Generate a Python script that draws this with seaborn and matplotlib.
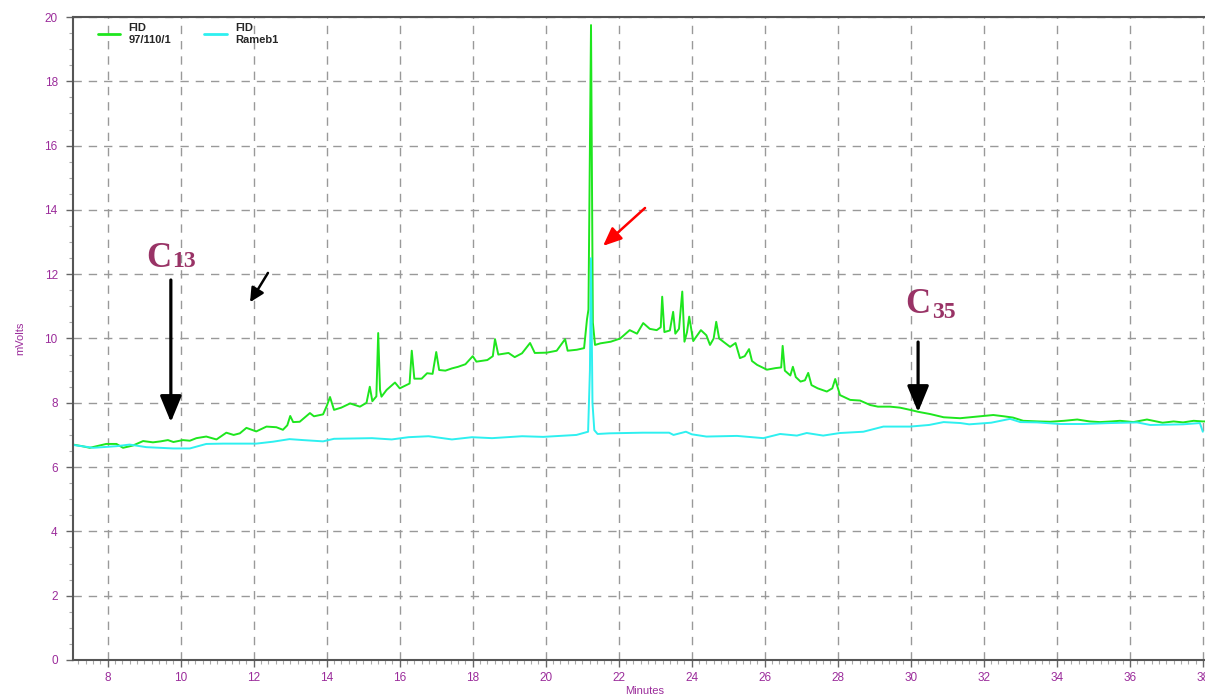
import matplotlib
matplotlib.use("Agg")
import matplotlib.pyplot as plt
from matplotlib.ticker import MultipleLocator
from matplotlib.lines import Line2D
import seaborn as sns

# green trace (sample 97/110/1), minutes / mVolts
green_t = [7.05, 7.3, 7.51, 7.78, 7.96, 8.24, 8.42, 8.69, 8.97, 9.24, 9.45, 9.65, 9.8,
           10.06, 10.25, 10.43, 10.7, 10.98, 11.25, 11.45, 11.62, 11.8, 12.07, 12.35,
           12.62, 12.8, 12.92, 13.0, 13.08, 13.26, 13.54, 13.65, 13.9, 14.0, 14.09,
           14.2, 14.4, 14.64, 14.91, 15.09, 15.18, 15.25, 15.36, 15.41, 15.46, 15.5,
           15.64, 15.87, 16.0, 16.27, 16.33, 16.4, 16.6, 16.75, 16.9, 17.0, 17.08,
           17.25, 17.43, 17.6, 17.8, 18.0, 18.1, 18.4, 18.55, 18.61, 18.7, 18.98,
           19.15, 19.35, 19.57, 19.7, 20.03, 20.3, 20.53, 20.6, 20.85, 21.05, 21.13,
           21.17, 21.24, 21.29, 21.35, 21.5, 21.78, 22.04, 22.3, 22.5, 22.67, 22.85,
           23.04, 23.15, 23.19, 23.25, 23.4, 23.49, 23.55, 23.65, 23.74, 23.8, 23.87,
           23.93, 24.04, 24.25, 24.4, 24.5, 24.6, 24.67, 24.75, 25.05, 25.2, 25.32,
           25.45, 25.57, 25.65, 25.79, 26.06, 26.3, 26.45, 26.49, 26.55, 26.7, 26.77,
           26.85, 26.98, 27.1, 27.19, 27.28, 27.45, 27.7, 27.85, 27.93, 28.06, 28.34,
           28.61, 28.89, 29.1, 29.43, 29.7, 29.98, 30.2, 30.53, 30.9, 31.35, 31.63,
           31.9, 32.26, 32.55, 32.8, 33.08, 33.5, 33.82, 34.2, 34.56, 34.9, 35.18,
           35.5, 35.73, 36.1, 36.47, 36.9, 37.2, 37.46, 37.75, 38.0, 38.4]
green_mv = [6.70, 6.65, 6.60, 6.67, 6.72, 6.72, 6.60, 6.67, 6.81, 6.77, 6.80, 6.84, 6.78,
            6.84, 6.82, 6.90, 6.95, 6.86, 7.07, 7.00, 7.05, 7.22, 7.11, 7.26,
            7.24, 7.16, 7.30, 7.59, 7.40, 7.41, 7.68, 7.58, 7.64, 7.90, 8.18,
            7.78, 7.85, 7.98, 7.88, 8.00, 8.50, 8.05, 8.20, 10.17, 8.40, 8.19,
            8.40, 8.63, 8.45, 8.60, 9.62, 8.75, 8.75, 8.92, 8.90, 9.58, 9.02,
            9.00, 9.07, 9.12, 9.20, 9.45, 9.28, 9.33, 9.45, 9.98, 9.50, 9.55,
            9.42, 9.54, 9.86, 9.55, 9.56, 9.62, 9.98, 9.62, 9.65, 9.70, 10.60,
            10.90, 19.75, 10.50, 9.80, 9.85, 9.90, 10.00, 10.26, 10.15, 10.48, 10.30,
            10.26, 10.35, 11.30, 10.20, 10.25, 10.83, 10.15, 10.30, 11.46, 9.90, 10.20,
            10.68, 9.92, 10.26, 10.10, 9.80, 10.00, 10.52, 10.00, 9.74, 9.86, 9.39,
            9.45, 9.67, 9.30, 9.18, 9.03, 9.08, 9.10, 9.77, 9.00, 8.85, 9.12,
            8.80, 8.66, 8.70, 8.93, 8.55, 8.45, 8.35, 8.45, 8.74, 8.24, 8.09,
            8.07, 7.93, 7.88, 7.88, 7.85, 7.78, 7.72, 7.65, 7.55, 7.52, 7.55,
            7.58, 7.62, 7.58, 7.54, 7.44, 7.42, 7.41, 7.44, 7.48, 7.42, 7.40,
            7.42, 7.44, 7.40, 7.48, 7.38, 7.42, 7.39, 7.44, 7.42, 7.42]

# cyan trace (Rameb1)
cyan_t = [7.05, 7.6, 8.24, 8.6, 9.06, 9.79, 10.25, 10.7, 11.16, 12.07, 12.53, 12.98,
          13.35, 13.9, 14.2, 15.24, 15.78, 16.24, 16.79, 17.43, 17.98, 18.53, 19.35,
          19.93, 20.84, 21.16, 21.21, 21.24, 21.28, 21.33, 21.42, 21.74, 22.65, 23.38,
          23.5, 23.84, 24.0, 24.4, 25.24, 25.96, 26.42, 26.88, 27.15, 27.6, 28.06,
          28.7, 29.25, 29.98, 30.5, 30.9, 31.36, 31.6, 32.2, 32.72, 33.0, 33.46,
          34.09, 34.72, 35.46, 36.2, 36.56, 37.46, 37.92, 38.0]
cyan_mv = [6.69, 6.60, 6.65, 6.70, 6.62, 6.58, 6.58, 6.72, 6.73, 6.73, 6.79, 6.87,
           6.84, 6.80, 6.88, 6.90, 6.86, 6.93, 6.96, 6.86, 6.93, 6.90, 6.96,
           6.94, 7.00, 7.10, 9.00, 12.50, 8.00, 7.15, 7.03, 7.05, 7.07, 7.07,
           7.00, 7.10, 7.02, 6.95, 6.97, 6.90, 7.03, 6.98, 7.06, 6.98, 7.06,
           7.10, 7.26, 7.26, 7.31, 7.40, 7.37, 7.33, 7.38, 7.50, 7.40, 7.39,
           7.34, 7.34, 7.37, 7.39, 7.31, 7.33, 7.37, 7.10]

legend_labels = ["FID\n97/110/1", "FID\nRameb1"]
x_ticks = list(range(8, 40, 2))
y_ticks = list(range(0, 22, 2))

purple = "#9b2c9b"
maroon = "#993366"
green = "#1ee61e"
cyan = "#2ef0f0"

sns.set_style("white")
plt.rcParams["font.family"] = ["Liberation Sans", "DejaVu Sans"]

fig = plt.figure(figsize=(12.05, 6.95), dpi=100)
ax = fig.add_axes([0.0606, 0.0504, 0.9494, 0.9251])

sns.lineplot(x=green_t, y=green_mv, ax=ax, color=green, lw=1.4, sort=False)
sns.lineplot(x=cyan_t, y=cyan_mv, ax=ax, color=cyan, lw=1.4, sort=False)

ax.set_xlim(7.05, 38.39)
ax.set_ylim(0, 20)
ax.set_xticks(x_ticks)
ax.set_yticks(y_ticks)
ax.xaxis.set_minor_locator(MultipleLocator(0.2))
ax.yaxis.set_minor_locator(MultipleLocator(0.5))
ax.tick_params(axis="both", which="major", direction="out", length=5, width=1,
               color="#666666", labelcolor=purple, labelsize=8.5)
ax.tick_params(axis="both", which="minor", direction="out", length=3, width=0.8,
               color="#aaaaaa")
ax.tick_params(axis="y", which="both", left=True, pad=6)
ax.tick_params(axis="x", which="both", bottom=True)
ax.tick_params(axis="x", which="major", pad=4)

ax.grid(True, which="major", color="#999999", linestyle=(0, (6, 5)), lw=1)
for side in ["left", "bottom", "top"]:
    ax.spines[side].set_color("#555555")
    ax.spines[side].set_linewidth(1.5)
ax.spines["right"].set_visible(False)

ax.set_xlabel("Minutes", color=purple, fontsize=8, labelpad=1)
ax.set_ylabel("mVolts", color=purple, fontsize=8, labelpad=14)

handles = [Line2D([0], [0], color=green, lw=2), Line2D([0], [0], color=cyan, lw=2)]
leg = ax.legend(handles, legend_labels, loc="upper left", bbox_to_anchor=(0.013, 1.006),
                ncol=2, frameon=False, fontsize=8, handlelength=2.0,
                columnspacing=3.0, handletextpad=0.75)
for t in leg.get_texts():
    t.set_fontweight("bold")

# peak labels and arrows
serif = ["Liberation Serif", "DejaVu Serif"]
ax.text(9.41, 12.5, "C", color=maroon, fontsize=25, fontweight="bold", family=serif,
        ha="center", va="center")
ax.text(10.1, 12.38, "13", color=maroon, fontsize=17, fontweight="bold", family=serif,
        ha="center", va="center")
ax.text(30.2, 11.05, "C", color=maroon, fontsize=25, fontweight="bold", family=serif,
        ha="center", va="center")
ax.text(30.9, 10.82, "35", color=maroon, fontsize=17, fontweight="bold", family=serif,
        ha="center", va="center")

big = dict(arrowstyle="-|>,head_length=0.8,head_width=0.33", color="black", lw=2.3,
           mutation_scale=20, shrinkA=0, shrinkB=0)
ax.annotate("", xy=(9.73, 7.40), xytext=(9.73, 11.82), arrowprops=big)
ax.annotate("", xy=(30.2, 7.71), xytext=(30.2, 9.89), arrowprops=big)
ax.annotate("", xy=(11.9, 11.13), xytext=(12.39, 12.04),
            arrowprops=dict(arrowstyle="-|>,head_length=0.6,head_width=0.3", color="black",
                            lw=1.8, mutation_scale=14, shrinkA=0, shrinkB=0))
ax.annotate("", xy=(21.57, 12.88), xytext=(22.72, 14.06),
            arrowprops=dict(arrowstyle="-|>,head_length=0.7,head_width=0.3", color="red",
                            lw=1.8, mutation_scale=16, shrinkA=0, shrinkB=0))

fig.savefig("out.png", dpi=100)
